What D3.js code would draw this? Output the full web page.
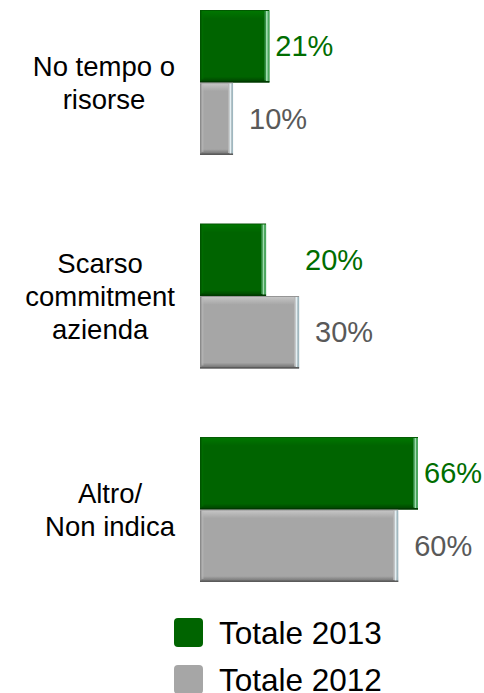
<!DOCTYPE html>
<html><head><meta charset="utf-8">
<script src="https://cdn.jsdelivr.net/npm/d3@7"></script>
<style>
html,body{margin:0;padding:0;background:#fff;}
svg{display:block;font-family:Arial,"Liberation Sans",Helvetica,sans-serif;}
</style></head>
<body>
<svg id="c" width="484" height="693"></svg>
<script>
const categories = [["No tempo o","risorse"],["Scarso","commitment","azienda"],["Altro/","Non indica"]];
const catKeys = ["No tempo o risorse","Scarso commitment azienda","Altro/ Non indica"];
const series = ["Totale 2013","Totale 2012"];
const values2013 = [21, 20, 66];
const values2012 = [10, 30, 60];

const svg = d3.select("#c");
const defs = svg.append("defs");
const colors = {"Totale 2013":"#006400","Totale 2012":"#a6a6a6"};
const textColors = {"Totale 2013":"#006d00","Totale 2012":"#595959"};
const edgeColors = {"Totale 2013":["#2e8b3e","#9edcb0","#4aa860"],"Totale 2012":["#b8b8b8","#e4f0f4","#9fb8c0"]};
const darkColors = {"Totale 2013":"#003a00","Totale 2012":"#5a5a5a"};

series.forEach((s,i)=>{
  const g = defs.append("linearGradient").attr("id","vg"+i).attr("x1",0).attr("y1",0).attr("x2",0).attr("y2",1);
  const base = d3.color(colors[s]);
  g.append("stop").attr("offset","0%").attr("stop-color",d3.color(base).darker(0.8));
  g.append("stop").attr("offset","2%").attr("stop-color",d3.color(base).brighter(0.45));
  g.append("stop").attr("offset","12%").attr("stop-color",base);
  g.append("stop").attr("offset","92%").attr("stop-color",base);
  g.append("stop").attr("offset","96%").attr("stop-color",d3.color(base).darker(0.6));
  g.append("stop").attr("offset","100%").attr("stop-color",d3.color(base).darker(1.2));
});

const x = d3.scaleLinear().domain([0,66]).range([200,418]);
const y = d3.scaleBand().domain(catKeys).range([10,582]).paddingInner(0.321).paddingOuter(0);
const yInner = d3.scaleBand().domain(series).range([0,y.bandwidth()]);

const data = catKeys.map((k,i)=>({key:k, lines:categories[i], vals:{"Totale 2013":values2013[i],"Totale 2012":values2012[i]}}));

const groups = svg.selectAll("g.grp").data(data).join("g").attr("class","grp")
  .attr("transform",d=>`translate(0,${y(d.key)})`);

groups.each(function(d){
  const g = d3.select(this);
  series.forEach((s,i)=>{
    const v = d.vals[s];
    const y0 = yInner(s), h = yInner.bandwidth();
    const x0 = x(0), w = x(v)-x(0);
    g.append("rect").attr("x",x0).attr("y",y0).attr("width",w).attr("height",h).attr("fill",`url(#vg${i})`);
    g.append("rect").attr("x",x0).attr("y",y0+1).attr("width",1.5).attr("height",h-2).attr("fill",d3.color(colors[s]).darker(0.5));
    g.append("rect").attr("x",x0+1.5).attr("y",y0+2).attr("width",2).attr("height",h-5).attr("fill",d3.color(colors[s]).brighter(0.3)).attr("opacity",0.6);
    const ec = edgeColors[s];
    g.append("rect").attr("x",x0+w-5).attr("y",y0+1).attr("width",1.5).attr("height",h-3).attr("fill",ec[0]);
    g.append("rect").attr("x",x0+w-3.5).attr("y",y0+1).attr("width",2).attr("height",h-2).attr("fill",ec[1]);
    g.append("rect").attr("x",x0+w-1.5).attr("y",y0+1).attr("width",1.5).attr("height",h-1).attr("fill",ec[2]);
    g.append("rect").attr("x",x0).attr("y",y0+h-1.5).attr("width",w).attr("height",1.5).attr("fill",darkColors[s]);
  });
  const endMax = Math.max(x(d.vals["Totale 2013"]), x(d.vals["Totale 2012"]));
  g.append("text").attr("x",endMax+6).attr("y",yInner("Totale 2013")+yInner.bandwidth()/2+10)
    .attr("font-size",29).attr("fill",textColors["Totale 2013"]).text(d.vals["Totale 2013"]+"%");
  g.append("text").attr("x",x(d.vals["Totale 2012"])+16).attr("y",yInner("Totale 2012")+yInner.bandwidth()/2+10)
    .attr("font-size",29).attr("fill",textColors["Totale 2012"]).text(d.vals["Totale 2012"]+"%");
  const lh = 33;
  const n = d.lines.length;
  const mid = y.bandwidth()/2;
  const ts = g.append("g").selectAll("text").data(d.lines).join("text")
    .attr("font-size",27.5).attr("fill","#000").attr("text-anchor","middle")
    .attr("y",(t,j)=>mid + (j-(n-1)/2)*lh + 10)
    .text(t=>t);
  let maxW = 0;
  ts.each(function(){ maxW = Math.max(maxW, this.getComputedTextLength()); });
  ts.attr("x", 175 - maxW/2);
});

const leg = svg.append("g").attr("transform","translate(174,618)");
const li = leg.selectAll("g").data(series).join("g").attr("transform",(s,i)=>`translate(0,${i*47})`);
li.append("rect").attr("width",29).attr("height",29).attr("rx",4).attr("fill",s=>colors[s]);
li.append("text").attr("x",45).attr("y",26).attr("font-size",31.5).attr("fill","#000").text(s=>s);
</script>
</body></html>
